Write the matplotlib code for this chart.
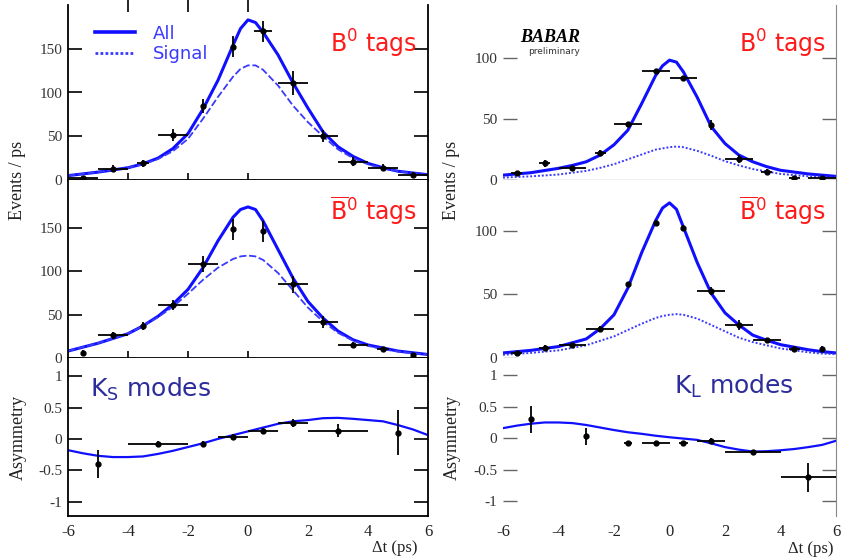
import matplotlib
matplotlib.use("Agg")
import matplotlib.pyplot as plt
from matplotlib.lines import Line2D

# --- data ------------------------------------------------------------------
t_fit = [-6, -5, -4, -3.5, -3, -2.5, -2, -1.5, -1, -0.5, -0.25, 0, 0.25,
         0.5, 1, 1.5, 2, 2.5, 3, 3.5, 4, 4.5, 5, 5.5, 6]
t_asym = [-6, -5.5, -5, -4.5, -4, -3.5, -3, -2.5, -2, -1.5, -1, -0.5, 0,
          0.5, 1, 1.5, 2, 2.5, 3, 3.5, 4, 4.5, 5, 5.5, 6]
t_bins = [-5.5, -4.5, -3.5, -2.5, -1.5, -0.5, 0.5, 1.5, 2.5, 3.5, 4.5, 5.5]

# K_S, B0 tags
ks_b0_all = [5, 9, 14, 18.5, 25, 36, 53, 81, 114, 154, 173, 183, 180,
             169, 143, 111, 82, 55, 38, 27, 19, 14, 10, 8, 6]
ks_b0_sig = [5, 9, 14, 18, 24, 33, 47, 70, 95, 118, 127, 131, 131,
             126, 108, 85, 66, 50, 35, 25, 18, 13, 10, 8, 6]
ks_b0_y = [2, 13, 19, 51, 85, 152, 170, 111, 50, 21, 14, 6]
ks_b0_ye = [3, 4, 4, 7, 8, 12, 12, 14, 7, 5, 4, 3]
ks_b0_xe = [0.5, 0.5, 0.2, 0.5, 0, 0, 0.3, 0.5, 0.5, 0.5, 0.5, 0.5]

# K_S, B0bar tags
ks_b0b_all = [8, 17, 28, 37, 48, 62, 79, 104, 135, 162, 171, 174, 171,
              158, 125, 92, 65, 46, 31, 21, 15, 11.5, 8, 6, 4]
ks_b0b_sig = [8, 17, 28, 37, 47, 59, 74, 90, 104, 114, 117, 118, 117,
              113, 98, 78, 58, 42, 29, 20, 14, 10, 7.5, 5.5, 4]
ks_b0b_y = [6, 26, 37, 61, 108, 148, 146, 85, 41, 15, 10, 4]
ks_b0b_ye = [3, 4, 5, 6, 9, 12, 12, 10, 7, 4, 3, 2]
ks_b0b_xe = [0, 0.5, 0, 0.5, 0.5, 0, 0, 0.5, 0.5, 0.5, 0.2, 0]

# K_S asymmetry
ks_asym_fit = [-0.18, -0.23, -0.27, -0.29, -0.29, -0.28, -0.24, -0.19, -0.13,
               -0.07, 0.0, 0.06, 0.12, 0.18, 0.24, 0.28, 0.30, 0.33, 0.335,
               0.32, 0.30, 0.28, 0.22, 0.15, 0.06]
ks_asym_t = [-5, -3, -1.5, -0.5, 0.5, 1.5, 3, 5]
ks_asym_y = [-0.40, -0.08, -0.08, 0.03, 0.13, 0.25, 0.13, 0.10]
ks_asym_ye = [0.22, 0.04, 0.05, 0.04, 0.05, 0.06, 0.10, 0.36]
ks_asym_xe = [0, 1, 0, 0.5, 0.5, 0.5, 1, 0]

# K_L, B0 tags
kl_b0_all = [4, 6, 9.6, 12, 15, 20.5, 29, 41, 63, 86, 94, 98.6, 97,
             89, 68, 44, 30, 20.5, 15, 11, 8, 6.5, 5, 4, 3]
kl_b0_sig = [2, 3, 4.5, 6, 7.5, 10, 13, 17, 21, 25, 26, 27, 27.5,
             27, 24, 20, 15.5, 12, 9, 7, 5, 4, 3, 2.5, 2]
kl_b0_y = [5.5, 13.7, 9.6, 22.5, 45.7, 89.6, 83.6, 45, 17.3, 6.8, 1.4, 1.4]
kl_b0_ye = [2, 3, 2, 2, 2, 2, 2, 4, 3, 2, 1, 1]
kl_b0_xe = [0.2, 0.2, 0.5, 0.2, 0.5, 0.5, 0.5, 0, 0.5, 0.2, 0.2, 0.5]

# K_L, B0bar tags
kl_b0b_all = [4, 6, 9, 12, 15, 23, 34, 55, 83, 108, 118, 122, 117,
              103, 75, 51, 35.5, 26, 18, 14, 10.5, 8.5, 6.5, 5, 4]
kl_b0b_sig = [2.5, 4, 6, 8, 10, 13.5, 17, 22, 27, 31.5, 33, 34, 34.5,
              34, 31, 26, 21, 16, 12.5, 10, 7.5, 6, 4.5, 3.5, 3]
kl_b0b_y = [4, 8, 10, 23, 58, 106.5, 102.6, 52.6, 26, 14, 7.4, 7.4]
kl_b0b_ye = [1, 2, 2, 2, 2, 2, 2, 3, 4, 2, 2, 2]
kl_b0b_xe = [0.2, 0.2, 0.5, 0.5, 0, 0, 0, 0.5, 0.5, 0.5, 0.2, 0]

# K_L asymmetry
kl_asym_fit = [0.16, 0.20, 0.23, 0.25, 0.25, 0.24, 0.21, 0.17, 0.13, 0.095,
               0.07, 0.04, 0.016, -0.005, -0.026, -0.08, -0.14, -0.18, -0.21,
               -0.205, -0.19, -0.17, -0.14, -0.105, -0.04]
kl_asym_t = [-5, -3, -1.5, -0.5, 0.5, 1.5, 3, 5]
kl_asym_y = [0.30, 0.03, -0.08, -0.07, -0.08, -0.04, -0.22, -0.62]
kl_asym_ye = [0.21, 0.13, 0.02, 0.02, 0.02, 0.04, 0.03, 0.23]
kl_asym_xe = [0, 0, 0.15, 0.5, 0.15, 0.5, 1, 1]

BLUE = "#1010ff"
SIGBLUE = "#3a3aff"
RED = "#ff1a1a"
NAVY = "#2c2c9c"
SERIF = "Liberation Serif"

fig = plt.figure(figsize=(8.42, 5.58), dpi=100)
W, H = 842.0, 558.0


def make_ax(x0, x1, ytop, ybot):
    return fig.add_axes([x0 / W, 1 - ybot / H, (x1 - x0) / W, (ybot - ytop) / H])


ax_l1 = make_ax(68, 428, 5, 180)
ax_l2 = make_ax(68, 428, 180, 358)
ax_l3 = make_ax(68, 428, 358, 516)
ax_r1 = make_ax(503, 836, 5, 180)
ax_r2 = make_ax(503, 836, 180, 358)
ax_r3 = make_ax(503, 836, 358, 516)


def draw_points(ax, x, y, ye, xe):
    ax.errorbar(x, y, yerr=ye, xerr=xe, fmt="o", color="black", ms=3.5,
                elinewidth=1.3, capsize=0, zorder=5)


def style(ax, left_col, ylim, yticks, ylabels, bottom=False, top=False):
    ax.set_xlim(-6, 6)
    ax.set_ylim(*ylim)
    ax.set_yticks(yticks)
    ax.set_yticklabels(ylabels, fontfamily=SERIF, fontsize=11, color="#333333")
    ax.spines["top"].set_visible(False)
    if left_col:
        ax.tick_params(axis="y", direction="in", length=10, width=1.2,
                       left=True, right=True, pad=4)
        for s in ["left", "right", "bottom"]:
            ax.spines[s].set_linewidth(1.3)
    else:
        ax.spines["left"].set_visible(False)
        ax.spines["right"].set_color("#888888")
        ax.tick_params(axis="y", direction="in", length=10, width=1.0,
                       left=True, right=True, color="#666666", pad=4)
    if bottom:
        ax.set_xticks([-6, -4, -2, 0, 2, 4, 6])
        ax.set_xticklabels(["-6", "-4", "-2", "0", "2", "4", "6"],
                           fontfamily=SERIF, fontsize=12, color="#222222")
        ax.tick_params(axis="x", length=0, pad=6)
        if not left_col:
            ax.spines["bottom"].set_visible(False)
    else:
        if left_col:
            ax.set_xticks([-4, -2, 0])
            ax.tick_params(axis="x", direction="inout", length=10, width=1.2,
                           labelbottom=False, top=top)
        else:
            ax.set_xticks([])
            if not top:
                ax.spines["bottom"].set_visible(False)


# --- K_S column -------------------------------------------------------------
for ax, fa, fs, yy, ye, xe in [(ax_l1, ks_b0_all, ks_b0_sig, ks_b0_y, ks_b0_ye, ks_b0_xe),
                               (ax_l2, ks_b0b_all, ks_b0b_sig, ks_b0b_y, ks_b0b_ye, ks_b0b_xe)]:
    ax.plot(t_fit, fa, color=BLUE, lw=2.2)
    ax.plot(t_fit, fs, color=SIGBLUE, lw=1.3, ls=(0, (4, 1.5)))
    draw_points(ax, t_bins, yy, ye, xe)

style(ax_l1, True, (0, 200), [0, 50, 100, 150], ["0", "50", "100", "150"], top=True)
style(ax_l2, True, (0, 205), [0, 50, 100, 150], ["0", "50", "100", "150"])

ax_l3.plot(t_asym, ks_asym_fit, color=BLUE, lw=1.6)
draw_points(ax_l3, ks_asym_t, ks_asym_y, ks_asym_ye, ks_asym_xe)
style(ax_l3, True, (-1.23, 1.29), [-1, -0.5, 0, 0.5, 1],
      ["-1", "-0.5", "0", "0.5", "1"], bottom=True)

# --- K_L column -------------------------------------------------------------
for ax, fa, fs, yy, ye, xe in [(ax_r1, kl_b0_all, kl_b0_sig, kl_b0_y, kl_b0_ye, kl_b0_xe),
                               (ax_r2, kl_b0b_all, kl_b0b_sig, kl_b0b_y, kl_b0b_ye, kl_b0b_xe)]:
    ax.plot(t_fit, fa, color=BLUE, lw=2.2)
    ax.plot(t_fit, fs, color=SIGBLUE, lw=1.4, ls=(0, (1, 1)))
    draw_points(ax, t_bins, yy, ye, xe)

style(ax_r1, False, (0, 144), [0, 50, 100], ["0", "50", "100"], top=True)
style(ax_r2, False, (0, 140), [0, 50, 100], ["0", "50", "100"])

ax_r3.plot(t_asym, kl_asym_fit, color=BLUE, lw=1.6)
draw_points(ax_r3, kl_asym_t, kl_asym_y, kl_asym_ye, kl_asym_xe)
style(ax_r3, False, (-1.23, 1.27), [-1, -0.5, 0, 0.5, 1],
      ["-1", "-0.5", "0", "0.5", "1"], bottom=True)

# --- labels -------------------------------------------------------------------
for ax in (ax_l1, ax_r1):
    ax.text(0.97, 0.78, r"B$^0$ tags", transform=ax.transAxes, ha="right",
            va="center", color=RED, fontsize=17)
for ax in (ax_l2, ax_r2):
    ax.text(0.97, 0.83, r"$\overline{\mathrm{B}}$$^0$ tags", transform=ax.transAxes,
            ha="right", va="center", color=RED, fontsize=17)

ax_l3.text(0.06, 0.80, r"K$_\mathrm{S}$ modes", transform=ax_l3.transAxes,
           ha="left", va="center", color=NAVY, fontsize=18)
ax_r3.text(0.515, 0.82, r"K$_\mathrm{L}$ modes", transform=ax_r3.transAxes,
           ha="left", va="center", color=NAVY, fontsize=18)

handles = [Line2D([], [], color=BLUE, lw=2.6),
           Line2D([], [], color=SIGBLUE, lw=2.0, ls=(0, (1, 0.8)))]
ax_l1.legend(handles, ["All", "Signal"], loc="upper left",
             bbox_to_anchor=(0.03, 0.98), frameon=False, fontsize=13,
             labelcolor=SIGBLUE, handlelength=2.2, handletextpad=1.0,
             labelspacing=0.15)

# BaBar logo
fig.text(520 / W, 1 - 37 / H, "BABAR", fontfamily=SERIF, fontweight="bold",
         fontstyle="italic", fontsize=13, ha="left", va="center")
fig.text(528 / W, 1 - 52 / H, "preliminary", fontsize=6.5, ha="left",
         va="center", color="#333333")

for x in (18, 452):
    fig.text(x / W, 1 - 180 / H, "Events / ps", rotation=90, fontfamily=SERIF,
             fontsize=13, ha="center", va="center", color="#222222")
    fig.text(x / W, 1 - 437 / H, "Asymmetry", rotation=90, fontfamily=SERIF,
             fontsize=13, ha="center", va="center", color="#222222")

fig.text(418 / W, 1 - 548 / H, "Δt (ps)", fontfamily=SERIF, fontsize=12,
         ha="right", va="center", color="#222222")
fig.text(834 / W, 1 - 549 / H, "Δt (ps)", fontfamily=SERIF, fontsize=12,
         ha="right", va="center", color="#222222")

fig.savefig("out.png", dpi=100)
